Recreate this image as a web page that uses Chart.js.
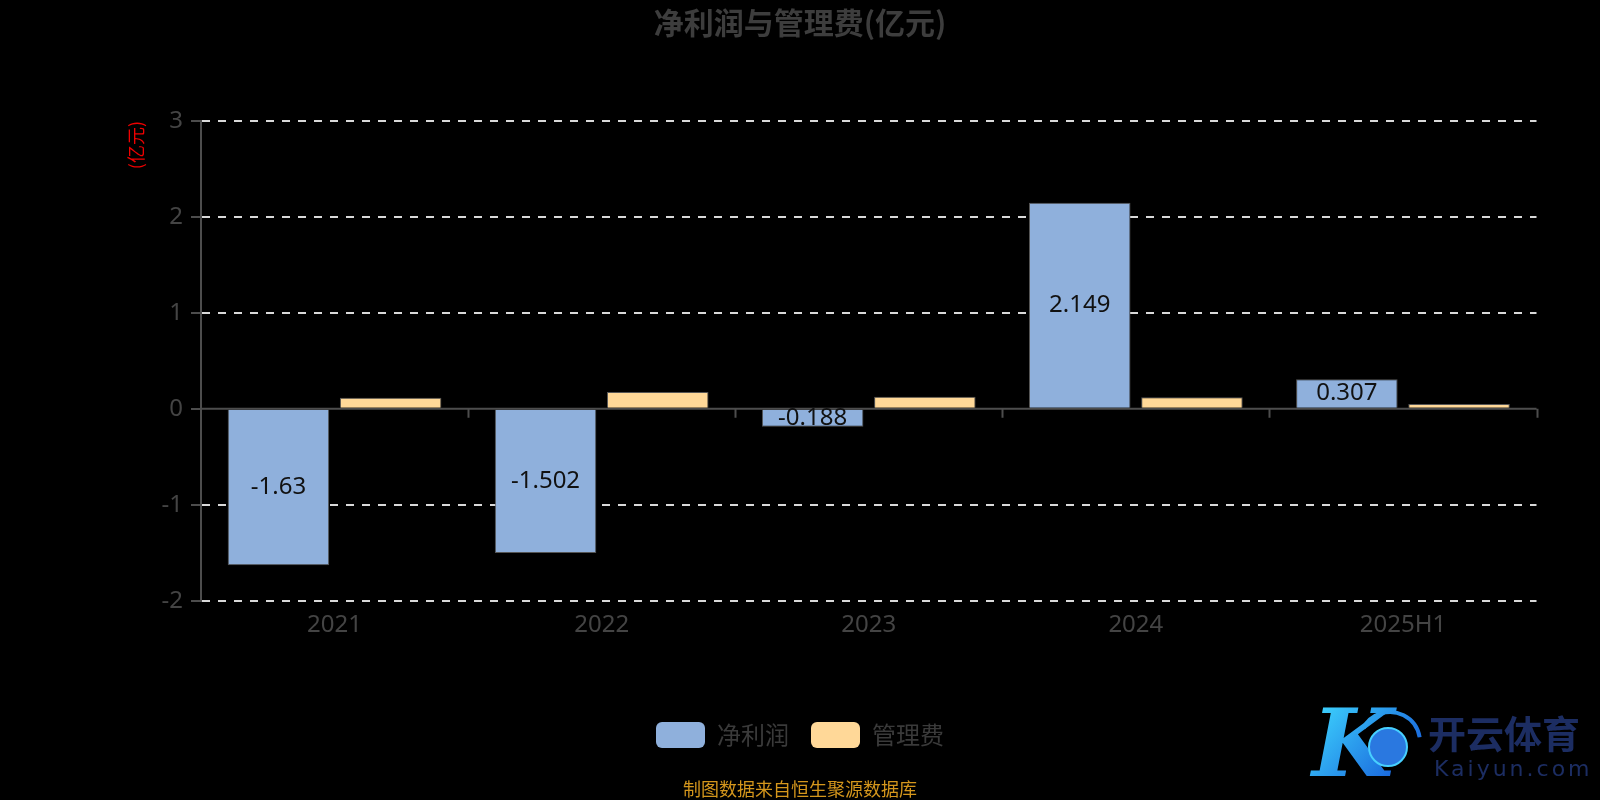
<!DOCTYPE html>
<html>
<head>
<meta charset="utf-8">
<title>净利润与管理费(亿元)</title>
<script src="https://cdn.jsdelivr.net/npm/chart.js@4.4.0/dist/chart.umd.min.js"></script>
<style>
  html, body { margin: 0; padding: 0; background: #000; }
  #wrap { width: 1600px; height: 800px; }
</style>
</head>
<body>
<div id="wrap"><canvas id="chart" width="1600" height="800"></canvas></div>
<script>
// 数据
var years = ['2021', '2022', '2023', '2024', '2025H1'];
var netProfit = [-1.63, -1.502, -0.188, 2.149, 0.307];
var adminFee = [0.115, 0.175, 0.125, 0.12, 0.05];
var seriesNames = ['净利润', '管理费'];
var yMin = -2, yMax = 3, yStep = 1;

var FONT = '"Noto Sans", "Noto Sans CJK SC", sans-serif';
var CJK = '"Noto Sans CJK SC", sans-serif';

// 零轴线、数值标签、单位、来源和水印
var extras = {
  id: 'extras',
  beforeDatasetsDraw: function(chart) {
    var ctx = chart.ctx, x = chart.scales.x, y = chart.scales.y;
    var y0 = y.getPixelForValue(0);
    ctx.save();
    ctx.strokeStyle = '#4d4d4d';
    ctx.lineWidth = 2;
    ctx.beginPath();
    ctx.moveTo(chart.chartArea.left, y0);
    ctx.lineTo(chart.chartArea.right, y0);
    for (var i = 0; i < years.length; i++) {
      var px = Math.round(x.getPixelForValue(i + 0.5)) + 0.5;
      ctx.moveTo(px, y0);
      ctx.lineTo(px, y0 + 9);
    }
    ctx.stroke();
    ctx.restore();
  },
  afterDatasetsDraw: function(chart) {
    var ctx = chart.ctx;
    var meta = chart.getDatasetMeta(0);
    ctx.save();
    ctx.font = '24px ' + FONT;
    ctx.fillStyle = '#111';
    ctx.textAlign = 'center';
    ctx.textBaseline = 'middle';
    meta.data.forEach(function(bar, i) {
      ctx.fillText(String(netProfit[i]), bar.x, (bar.y + bar.base) / 2);
    });
    ctx.restore();
  },
  afterDraw: function(chart) {
    var ctx = chart.ctx;
    ctx.save();
    // 单位
    ctx.translate(136, chart.chartArea.top);
    ctx.rotate(-Math.PI / 2);
    ctx.font = '18px ' + CJK;
    ctx.fillStyle = '#f00000';
    ctx.textAlign = 'right';
    ctx.textBaseline = 'middle';
    ctx.fillText('(亿元)', 0, 0);
    ctx.restore();

    // 来源
    ctx.save();
    ctx.font = '18px ' + CJK;
    ctx.fillStyle = '#d4961c';
    ctx.textAlign = 'center';
    ctx.textBaseline = 'middle';
    ctx.fillText('制图数据来自恒生聚源数据库', 800, 789);
    ctx.restore();

    // 水印
    ctx.save();
    var g = ctx.createLinearGradient(1316, 700, 1410, 782);
    g.addColorStop(0, '#3fd8ff');
    g.addColorStop(1, '#1457d8');
    ctx.fillStyle = g;
    ctx.font = 'italic bold 94px "DejaVu Serif"';
    ctx.textBaseline = 'alphabetic';
    ctx.fillText('K', 1312, 776);
    ctx.beginPath();
    ctx.arc(1388, 747, 19, 0, Math.PI * 2);
    ctx.fillStyle = '#2a78e0';
    ctx.fill();
    ctx.lineWidth = 2;
    ctx.strokeStyle = '#47d0ff';
    ctx.stroke();
    ctx.beginPath();
    ctx.arc(1390, 742, 30, -Math.PI * 0.85, -Math.PI * 0.05);
    ctx.strokeStyle = g;
    ctx.lineWidth = 4;
    ctx.stroke();
    ctx.fillStyle = '#1c2d62';
    ctx.font = 'bold 38px ' + CJK;
    ctx.fillText('开云体育', 1428, 748);
    ctx.font = '22px "DejaVu Sans"';
    ctx.letterSpacing = '3px';
    ctx.fillText('Kaiyun.com', 1434, 776);
    ctx.restore();
  }
};

new Chart(document.getElementById('chart'), {
  type: 'bar',
  data: {
    labels: years,
    datasets: [{
      label: seriesNames[0],
      data: netProfit,
      backgroundColor: '#8fb0dc',
      borderColor: '#555',
      borderWidth: 1
    }, {
      label: seriesNames[1],
      data: adminFee,
      backgroundColor: '#ffd898',
      borderColor: '#555',
      borderWidth: 1
    }]
  },
  options: {
    responsive: false,
    animation: false,
    categoryPercentage: 0.84,
    barPercentage: 0.905,
    layout: { padding: { left: 63.5, right: 63.5, top: 0, bottom: 42 } },
    scales: {
      x: {
        grid: { display: false, drawTicks: false },
        border: { display: false },
        ticks: { color: '#444', font: { size: 24, family: FONT }, padding: 10 },
        afterFit: function(scale) { scale.height = 99.3; }
      },
      y: {
        min: yMin,
        max: yMax,
        ticks: { stepSize: yStep, color: '#444', font: { size: 24, family: FONT }, padding: 8 },
        grid: {
          color: function(c) { return c.tick && c.tick.value === 0 ? 'rgba(0,0,0,0)' : '#d9d9d9'; },
          lineWidth: 2,
          tickColor: '#4d4d4d',
          tickLength: 10,
          tickWidth: 2
        },
        border: { display: true, color: '#4d4d4d', width: 2, dash: [8, 8] },
        afterFit: function(scale) { scale.width = 137.5; }
      }
    },
    plugins: {
      title: {
        display: true,
        text: '净利润与管理费(亿元)',
        color: '#3d3d3d',
        font: { size: 30, weight: 'bold', family: CJK },
        padding: { top: 5, bottom: 80 }
      },
      legend: {
        position: 'bottom',
        labels: {
          color: '#3a3a3a',
          font: { size: 24, family: CJK },
          boxWidth: 49,
          boxHeight: 26,
          padding: 22,
          useBorderRadius: true,
          borderRadius: 6,
          generateLabels: function(chart) {
            var items = Chart.defaults.plugins.legend.labels.generateLabels(chart);
            items.forEach(function(it) { it.lineWidth = 0; it.strokeStyle = 'rgba(0,0,0,0)'; });
            return items;
          }
        }
      },
      tooltip: { enabled: false }
    }
  },
  plugins: [extras]
});
</script>
</body>
</html>
